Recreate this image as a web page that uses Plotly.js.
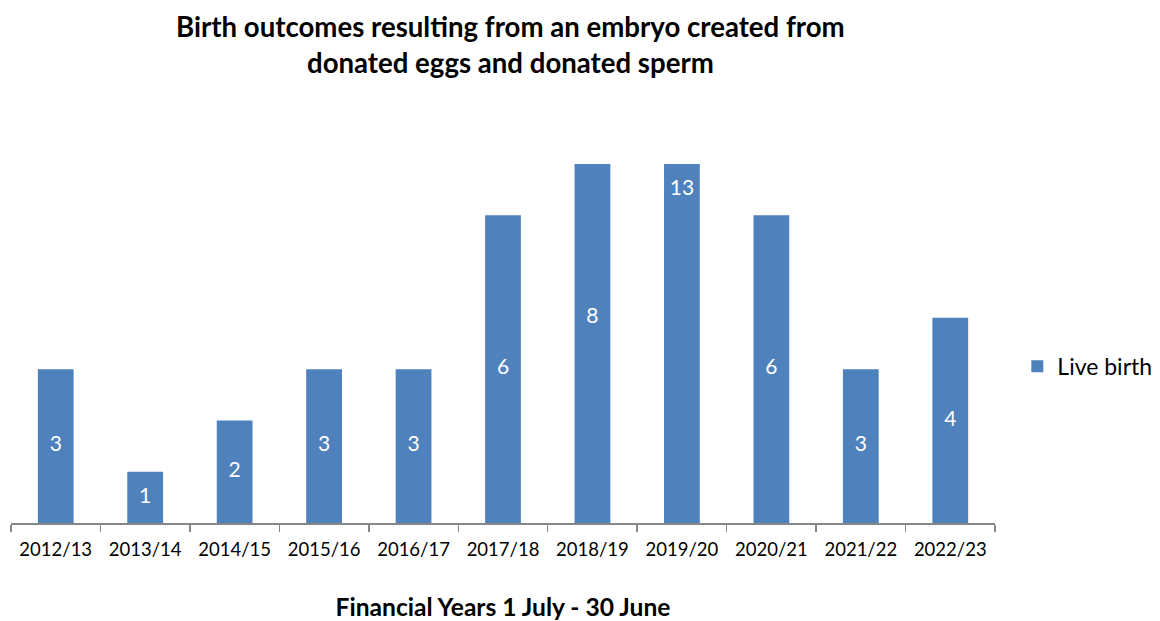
<!DOCTYPE html>
<html><head><meta charset="utf-8">
<script src="https://cdn.plot.ly/plotly-3.0.1.min.js"></script>
<style>body{margin:0;background:#fff}#c{width:1160px;height:621px}</style>
</head><body><div id="c"></div>
<script>
var years = ["2012/13","2013/14","2014/15","2015/16","2016/17","2017/18","2018/19","2019/20","2020/21","2021/22","2022/23"];
var liveBirths = [3,1,2,3,3,6,8,13,6,3,4];
var axisMax = 7;
var F = "Lato, 'Open Sans', sans-serif";
var labelY = liveBirths.map(function(v){ return Math.min(v / 2, axisMax); });
var data = [
  {type:"bar", x:years, y:liveBirths, name:"Live birth", marker:{color:"#4f81bd"}, hoverinfo:"x+y"},
  {type:"scatter", mode:"text", x:years, y:labelY, text:liveBirths.map(String), textposition:"middle center",
   textfont:{family:F, size:21, color:"#ffffff"}, showlegend:false, hoverinfo:"skip", cliponaxis:false}
];
var layout = {
  width:1160, height:621,
  margin:{l:11, r:165, t:164, b:98, autoexpand:false},
  paper_bgcolor:"#fff", plot_bgcolor:"#fff",
  bargap:0.6,
  font:{family:F, color:"#000"},
  title:{text:"<b>Birth outcomes resulting from an embryo created from<br>donated eggs and donated sperm</b>",
         x:0.44, xref:"container", xanchor:"center", y:0.94, yref:"container", yanchor:"top",
         font:{family:F, size:27.6, color:"#000"}},
  xaxis:{type:"category", range:[-0.5, years.length - 0.5], autorange:false,
         showline:true, linecolor:"#868686", linewidth:1.5, ticks:"outside", tickson:"boundaries",
         ticklen:7, tickcolor:"#868686", tickwidth:1.5, tickfont:{family:F, size:18.5, color:"#000"},
         ticklabelstandoff:9,
         title:{text:"<b>Financial Years 1 July - 30 June</b>", font:{family:F, size:24.6, color:"#000"}, standoff:40},
         showgrid:false, zeroline:false, fixedrange:true, automargin:false},
  yaxis:{range:[0,axisMax], visible:false, showgrid:false, zeroline:false, fixedrange:true},
  showlegend:true,
  legend:{xref:"container", x:0.877, xanchor:"left", y:0.41, yref:"container", yanchor:"middle",
          font:{family:F, size:23, color:"#000"}, itemwidth:30}
};
Plotly.newPlot("c", data, layout, {displayModeBar:false, staticPlot:true});
</script></body></html>
